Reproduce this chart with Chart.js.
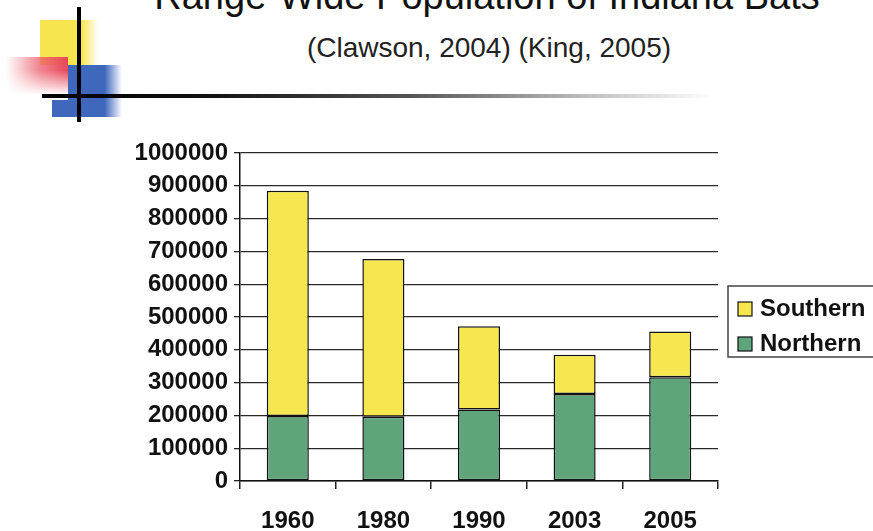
<!DOCTYPE html>
<html>
<head>
<meta charset="utf-8">
<script src="https://cdn.jsdelivr.net/npm/chart.js@4/dist/chart.umd.min.js"></script>
<style>
  html, body { margin: 0; padding: 0; background: #fff; }
  #page { position: relative; width: 873px; height: 531px; overflow: hidden; background: #fff; font-family: "Liberation Sans", Arial, sans-serif; }
  #chart { position: absolute; left: 0; top: 0; }
  .deco { position: absolute; }
  #title { position: absolute; left: 0; width: 974px; text-align: center; top: -26px; font-size: 38px; line-height: 44px; color: #111; white-space: nowrap; }
  #subtitle { position: absolute; left: 0; width: 978px; text-align: center; top: 33px; font-size: 28px; line-height: 30px; color: #222; white-space: nowrap; }
</style>
</head>
<body>
<div id="page">
  <!-- slide ornament -->
  <div class="deco" style="left:40px;top:20px;width:58px;height:45px;background:linear-gradient(to right,#f7e550 0%,#f7e550 72%,rgba(247,229,80,0) 100%);"></div>
  <div class="deco" style="left:6px;top:57px;width:62px;height:38px;background:linear-gradient(to left,#e8475a 0%,rgba(236,90,105,0.75) 45%,rgba(240,120,130,0) 100%);-webkit-mask-image:linear-gradient(to bottom,#000 0%,#000 35%,rgba(0,0,0,0) 100%);mask-image:linear-gradient(to bottom,#000 0%,#000 35%,rgba(0,0,0,0) 100%);"></div>
  <div class="deco" style="left:68px;top:65px;width:54px;height:52px;background:linear-gradient(to right,#3f68bd 0%,#3f68bd 68%,rgba(63,104,189,0) 100%);"></div>
  <div class="deco" style="left:52px;top:100px;width:18px;height:17px;background:#3f68bd;"></div>
  <div class="deco" style="left:42px;top:94px;width:672px;height:4px;background:linear-gradient(to right,#000 0%,#111 25%,#555 55%,#bbb 80%,rgba(220,220,220,0) 100%);"></div>
  <div class="deco" style="left:77px;top:7px;width:4px;height:115px;background:#000;"></div>

  <div id="title">Range-Wide Population of Indiana Bats</div>
  <div id="subtitle">(Clawson, 2004) (King, 2005)</div>

  <canvas id="chart" width="873" height="531"></canvas>
</div>
<script>
// Indiana bat population estimates by region
const years = ['1960', '1980', '1990', '2003', '2005'];
const northern = [198000, 196000, 218000, 265000, 316000];
const southern = [687000, 481000, 254000, 120000, 140000];
const yTicks = [0, 100000, 200000, 300000, 400000, 500000, 600000, 700000, 800000, 900000, 1000000];

const FONT = '"Liberation Sans", Arial, sans-serif';

// Boxed legend at the right, top entry drawn first (stack order reversed)
const boxedLegend = {
  id: 'boxedLegend',
  afterDraw(chart) {
    const ctx = chart.ctx;
    const ds = chart.data.datasets.slice().reverse();
    ctx.save();
    ctx.strokeStyle = '#444';
    ctx.lineWidth = 1.5;
    ctx.strokeRect(728, 286, 160, 71);
    ctx.font = 'bold 24px ' + FONT;
    ctx.textBaseline = 'alphabetic';
    ctx.textAlign = 'left';
    ds.forEach((d, i) => {
      const y = 302 + i * 35;
      ctx.fillStyle = d.backgroundColor;
      ctx.fillRect(738, y, 14, 14);
      ctx.strokeStyle = '#111';
      ctx.lineWidth = 1.2;
      ctx.strokeRect(738, y, 14, 14);
      ctx.fillStyle = '#111';
      ctx.fillText(d.label, 760, y + 14);
    });
    ctx.restore();
  }
};

new Chart(document.getElementById('chart'), {
  type: 'bar',
  data: {
    labels: years,
    datasets: [
      { label: 'Northern', data: northern, backgroundColor: '#5fa47b', borderColor: '#111', borderWidth: 1.5, borderSkipped: false, barPercentage: 0.44, categoryPercentage: 1 },
      { label: 'Southern', data: southern, backgroundColor: '#f6e74e', borderColor: '#111', borderWidth: 1.5, borderSkipped: false, barPercentage: 0.44, categoryPercentage: 1 }
    ]
  },
  options: {
    responsive: false,
    animation: false,
    devicePixelRatio: 1,
    layout: { padding: { top: 153, right: 155, left: 0, bottom: 0 } },
    plugins: { legend: { display: false }, tooltip: { enabled: false } },
    scales: {
      x: {
        stacked: true,
        afterFit(scale) { scale.height = 50; },
        border: { color: '#111', width: 1.5 },
        grid: {
          offset: true,
          drawOnChartArea: true,
          color: (c) => (c.index === years.length ? '#222' : 'rgba(0,0,0,0)'),
          tickColor: '#222',
          tickLength: 8,
          lineWidth: 1.5
        },
        ticks: { color: '#111', padding: 18, font: { family: FONT, size: 24, weight: 'bold' } }
      },
      y: {
        stacked: true,
        min: 0,
        max: 1000000,
        afterFit(scale) { scale.width = 240; },
        afterBuildTicks(scale) { scale.ticks = yTicks.map(v => ({ value: v })); },
        border: { color: '#111', width: 1.5 },
        grid: { color: '#2a2a2a', lineWidth: 1.3, tickLength: 6, tickColor: '#222' },
        ticks: {
          color: '#111',
          padding: 6,
          font: { family: FONT, size: 24, weight: 'bold' },
          callback: (v) => String(v)
        }
      }
    }
  },
  plugins: [boxedLegend]
});
</script>
</body>
</html>
